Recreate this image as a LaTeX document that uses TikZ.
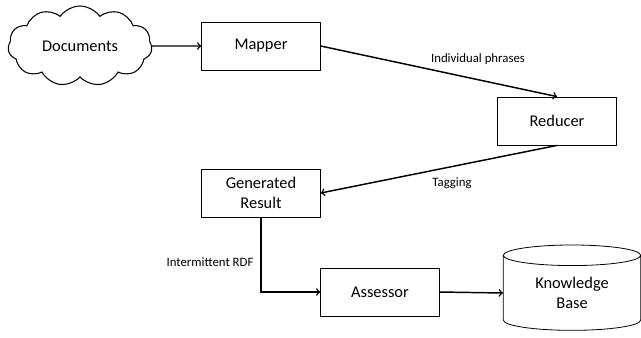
\documentclass[tikz,border=0pt]{standalone}
\usepackage{fontspec}
\setmainfont{Carlito}
\usetikzlibrary{shapes.symbols,shapes.geometric}
\begin{document}
\begin{tikzpicture}[x=0.75pt,y=-0.75pt,font=\fontsize{12.3}{14.5}\selectfont,
	every node/.style={align=center},
	box/.style={draw,line width=0.6pt,minimum width=89pt,minimum height=36pt,inner sep=0pt},
	flow/.style={->,line width=1.1pt},
	tag/.style={font=\fontsize{9.6}{11}\selectfont}]
	\useasboundingbox (0,0) rectangle (641,337);
	\node[draw,cloud,cloud puffs=11,cloud puff arc=110,aspect=1.8,line width=0.8pt,minimum width=108pt,minimum height=60pt,inner sep=0pt] (docs) at (80,46) {Documents};
	\node[box] (mapper) at (261,46) {Mapper};
	\node[box] (reducer) at (557,121) {Reducer};
	\node[box] (result) at (261,193) {Generated\\Result};
	\node[box] (assessor) at (380,292) {Assessor};
	\node[draw,cylinder,shape border rotate=90,aspect=0.28,line width=0.6pt,minimum width=103pt,minimum height=64pt,inner sep=0pt] (kb) at (572,293) {Knowledge\\Base};
	\draw[flow] (docs.east) -- (mapper.west);
	\draw[flow] (mapper.east) -- (reducer.north);
	\draw[flow] (reducer.south) -- (result.east);
	\draw[flow] (result.south) |- (assessor.west);
	\draw[flow] (assessor.east) -- (kb.west);
	\node[tag] (phrases) at (478,59) {Individual phrases};
	\node[tag] (tagging) at (452,183) {Tagging};
	\node[tag] (rdf) at (210,262) {Intermittent RDF};
\end{tikzpicture}
\end{document}
